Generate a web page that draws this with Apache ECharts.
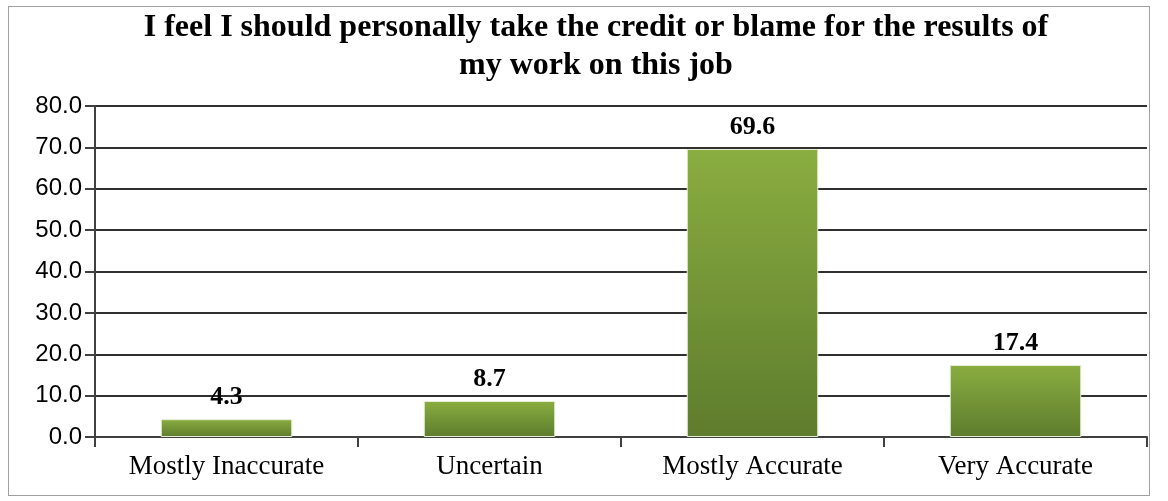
<!DOCTYPE html>
<html><head><meta charset="utf-8">
<script src="https://cdn.jsdelivr.net/npm/echarts@6/dist/echarts.min.js"></script>
<style>html,body{margin:0;padding:0;background:#fff}#c{width:1168px;height:501px}
#frame{position:absolute;left:8px;top:6px;width:1140px;height:488px;border:1px solid #a0a0a0;pointer-events:none}</style>
</head><body><div id="c"></div><div id="frame"></div>
<script>
const titleText = "I feel I should personally take the credit or blame for the results of\nmy work on this job";
const categories = ["Mostly Inaccurate", "Uncertain", "Mostly Accurate", "Very Accurate"];
const values = [4.3, 8.7, 69.6, 17.4];
const chart = echarts.init(document.getElementById('c'));
chart.setOption({
  animation: false,
  title: {
    text: titleText, left: 591, textAlign: 'center', top: 4,
    textStyle: {fontFamily: 'Liberation Serif', fontWeight: 'bold', fontSize: 32, lineHeight: 38, color: '#000'}
  },
  grid: {left: 95, right: 21, top: 106, bottom: 64},
  xAxis: {
    type: 'category', data: categories,
    axisLine: {lineStyle: {color: '#404040', width: 2}},
    axisTick: {show: true, length: 10, lineStyle: {color: '#404040', width: 2}},
    axisLabel: {fontFamily: 'Liberation Serif', fontSize: 27, color: '#000', margin: 16}
  },
  yAxis: {
    type: 'value', min: 0, max: 80, interval: 10,
    axisLine: {show: true, lineStyle: {color: '#404040', width: 2}},
    axisTick: {show: true, length: 10, lineStyle: {color: '#404040', width: 2}},
    splitLine: {lineStyle: {color: '#303030', width: 2}},
    axisLabel: {fontFamily: 'Liberation Sans', fontSize: 24, color: '#000', margin: 13, formatter: v => v.toFixed(1)}
  },
  series: [{
    type: 'bar', data: values, barWidth: '50%',
    itemStyle: {
      color: new echarts.graphic.LinearGradient(0, 0, 0, 1, [
        {offset: 0, color: '#8aad40'}, {offset: 1, color: '#5e7c2d'}
      ]),
      borderColor: '#e6eed8', borderWidth: 1
    },
    label: {show: true, position: 'top', distance: 9, formatter: p => p.value.toFixed(1),
      fontFamily: 'Liberation Serif', fontWeight: 'bold', fontSize: 26, color: '#000'}
  }]
});
</script></body></html>
